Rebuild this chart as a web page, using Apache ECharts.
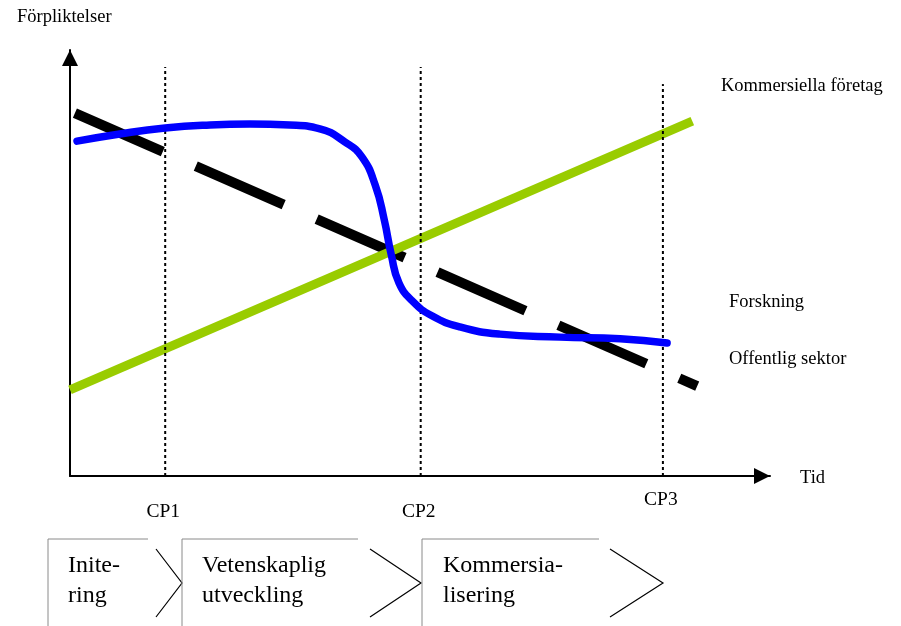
<!DOCTYPE html>
<html>
<head>
<meta charset="utf-8">
<script src="https://cdn.jsdelivr.net/npm/echarts@6/dist/echarts.min.js"></script>
<style>
  html, body { margin: 0; padding: 0; background: #fff; }
  #chart { width: 901px; height: 626px; }
</style>
</head>
<body>
<div id="chart"></div>
<script>
// time runs 0..100 along the x axis, commitment 0..100 up the y axis
const researchX = [1.0, 7.1, 13.6, 20.0, 25.7, 31.4, 35.7, 39.3, 41.7, 43.6, 44.9, 45.9, 47.0, 48.9, 51.7, 55.7, 61.4, 70.0, 78.6, 85.3]
const researchY = [78.6, 80.3, 81.7, 82.4, 82.6, 82.4, 81.5, 78.4, 74.9, 68.3, 60.1, 51.9, 45.3, 41.1, 37.6, 35.0, 33.3, 32.6, 32.2, 31.2]
const companyX = [0, 88.9]
const companyY = [20.2, 83.3]
const publicX = [0.7, 89.6]
const publicY = [85.2, 21.1]
const cpNames = ['CP1', 'CP2', 'CP3']
const cpX = [13.6, 50.1, 84.7]
const cpTop = [96, 96, 92]
const cpLabelDrop = [36, 36, 24]
const phases = [
  { lines: ['Inite-', 'ring'], left: 48, textX: 68, top: 148, chevFrom: 156, tip: 182 },
  { lines: ['Vetenskaplig', 'utveckling'], left: 182, textX: 202, top: 358, chevFrom: 370, tip: 421 },
  { lines: ['Kommersia-', 'lisering'], left: 422, textX: 443, top: 599, chevFrom: 610, tip: 663 }
]

const serif = "'Liberation Serif', 'DejaVu Serif', serif"
const zip = (xs, ys) => xs.map((x, i) => [x, ys[i]])

const chart = echarts.init(document.getElementById('chart'))

const axisCommon = {
  type: 'value',
  min: 0,
  max: 100,
  axisLine: {
    show: true,
    symbol: ['none', 'triangle'],
    symbolSize: [16, 16],
    symbolOffset: [0, -8],
    lineStyle: { color: '#000', width: 2 }
  },
  axisTick: { show: false },
  axisLabel: { show: false },
  splitLine: { show: false }
}

const cpSeries = cpX.map((x, i) => ({
  type: 'line',
  data: [[x, 0], [x, cpTop[i]]],
  symbol: 'none',
  silent: true,
  lineStyle: { color: '#000', width: 2, type: [3, 3] }
}))

chart.setOption({
  animation: false,
  grid: { left: 70, top: 50, width: 700, height: 426 },
  xAxis: Object.assign({}, axisCommon),
  yAxis: Object.assign({}, axisCommon),
  series: [
    {
      name: 'Offentlig sektor',
      type: 'line',
      data: zip(publicX, publicY),
      symbol: 'none',
      lineStyle: { color: '#000', width: 10, type: [96, 36], cap: 'butt' }
    },
    {
      name: 'Kommersiella företag',
      type: 'line',
      data: zip(companyX, companyY),
      symbol: 'none',
      lineStyle: { color: '#99cc00', width: 9, cap: 'butt' }
    },
    ...cpSeries,
    {
      name: 'Forskning',
      type: 'line',
      data: zip(researchX, researchY),
      symbol: 'none',
      smooth: 0.5,
      lineStyle: { color: '#0000ff', width: 7.5, cap: 'round' }
    }
  ]
})

const text = (x, y, str, size, align) => ({
  type: 'text',
  x: x,
  y: y,
  style: {
    text: str,
    font: size + 'px ' + serif,
    fill: '#000',
    align: align || 'left',
    textAlign: align || 'left',
    verticalAlign: 'middle',
    textVerticalAlign: 'middle'
  }
})

const graphics = [
  text(17, 17, 'Förpliktelser', 18.5),
  text(721, 86, 'Kommersiella företag', 18.5),
  text(729, 302, 'Forskning', 18.5),
  text(729, 359, 'Offentlig sektor', 18.5),
  text(800, 478, 'Tid', 18.5)
]

cpNames.forEach((name, i) => {
  const p = chart.convertToPixel({ gridIndex: 0 }, [cpX[i], 0])
  graphics.push(text(p[0] - 2, p[1] + cpLabelDrop[i], name, 19.5, 'center'))
})

phases.forEach((ph) => {
  graphics.push({
    type: 'polyline',
    shape: { points: [[ph.left, 626], [ph.left, 539], [ph.top, 539]] },
    style: { stroke: '#8a8a8a', lineWidth: 1, fill: null }
  })
  graphics.push({
    type: 'polyline',
    shape: { points: [[ph.chevFrom, 549], [ph.tip, 583], [ph.chevFrom, 617]] },
    style: { stroke: '#000', lineWidth: 1.2, fill: null }
  })
  graphics.push(text(ph.textX, 566, ph.lines[0], 24))
  graphics.push(text(ph.textX, 596, ph.lines[1], 24))
})

chart.setOption({ graphic: graphics })
</script>
</body>
</html>
